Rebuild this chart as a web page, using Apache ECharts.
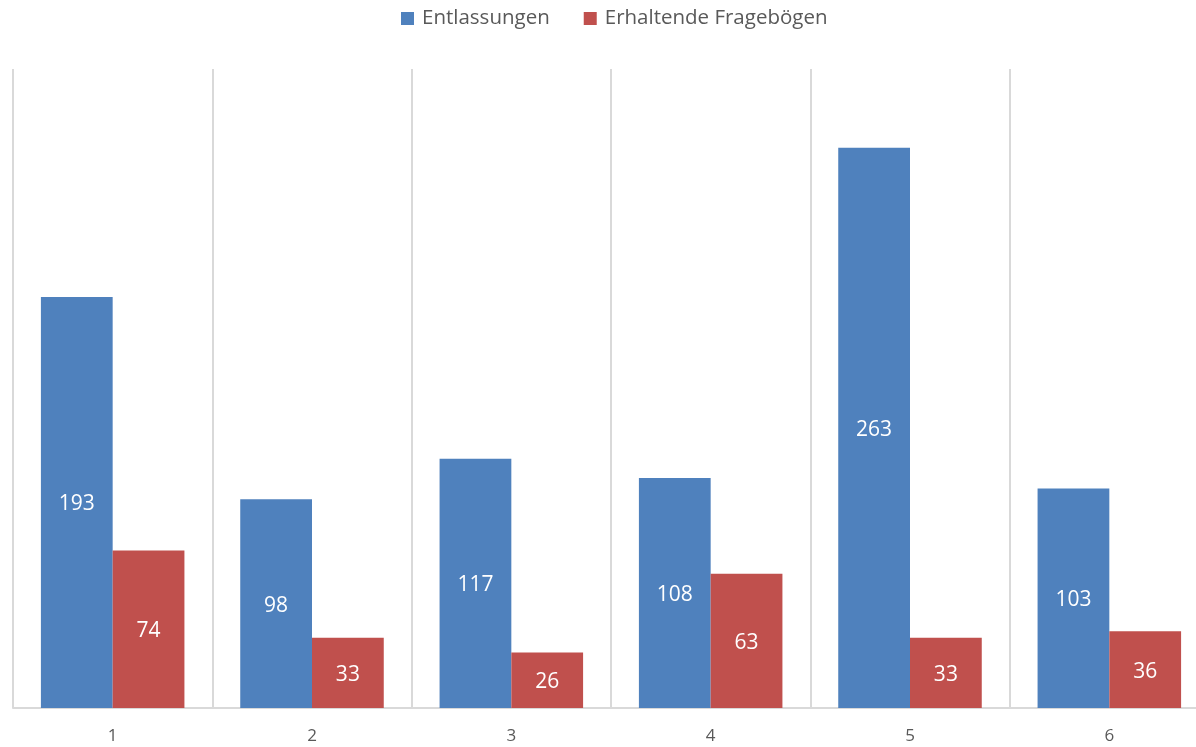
<!DOCTYPE html>
<html>
<head>
<meta charset="utf-8">
<script src="https://cdn.jsdelivr.net/npm/echarts@6/dist/echarts.min.js"></script>
<style>
  html, body { margin: 0; padding: 0; background: #fff; }
  #chart { width: 1196px; height: 747px; }
</style>
</head>
<body>
<div id="chart"></div>
<script>
var categories = ['1', '2', '3', '4', '5', '6'];
var entlassungen = [193, 98, 117, 108, 263, 103];
var frageboegen = [74, 33, 26, 63, 33, 36];

var chart = echarts.init(document.getElementById('chart'));
var font = "'Open Sans', 'Noto Sans', sans-serif";

chart.setOption({
  animation: false,
  textStyle: { fontFamily: font },
  legend: {
    top: 3,
    left: 396,
    itemWidth: 13,
    itemHeight: 13,
    itemGap: 34,
    icon: 'rect',
    textStyle: { fontSize: 20.5, color: '#595959', fontFamily: font, padding: [0, 0, 0, 3] },
    data: ['Entlassungen', 'Erhaltende Fragebögen']
  },
  // plot area runs past the right edge of the picture, like the original
  grid: { left: 13, width: 1196, top: 69, bottom: 39, outerBoundsMode: 'none', containLabel: false },
  xAxis: {
    type: 'category',
    data: categories,
    axisLine: { lineStyle: { color: '#d9d9d9', width: 2 } },
    axisTick: { show: false },
    axisLabel: { fontSize: 17, color: '#595959', margin: 20, fontFamily: font },
    splitLine: { show: true, lineStyle: { color: '#d9d9d9', width: 2 } }
  },
  yAxis: {
    type: 'value',
    min: 0,
    max: 300,
    show: false,
    splitLine: { show: false }
  },
  series: [
    {
      name: 'Entlassungen',
      type: 'bar',
      data: entlassungen,
      barGap: '0%',
      barCategoryGap: '28%',
      itemStyle: { color: '#4f81bd' },
      label: { show: true, position: 'inside', color: '#fff', fontSize: 21, fontFamily: font, offset: [0, 2] }
    },
    {
      name: 'Erhaltende Fragebögen',
      type: 'bar',
      data: frageboegen,
      barGap: '0%',
      barCategoryGap: '28%',
      itemStyle: { color: '#c0504d' },
      label: { show: true, position: 'inside', color: '#fff', fontSize: 21, fontFamily: font, offset: [0, 2] }
    }
  ]
});
</script>
</body>
</html>
